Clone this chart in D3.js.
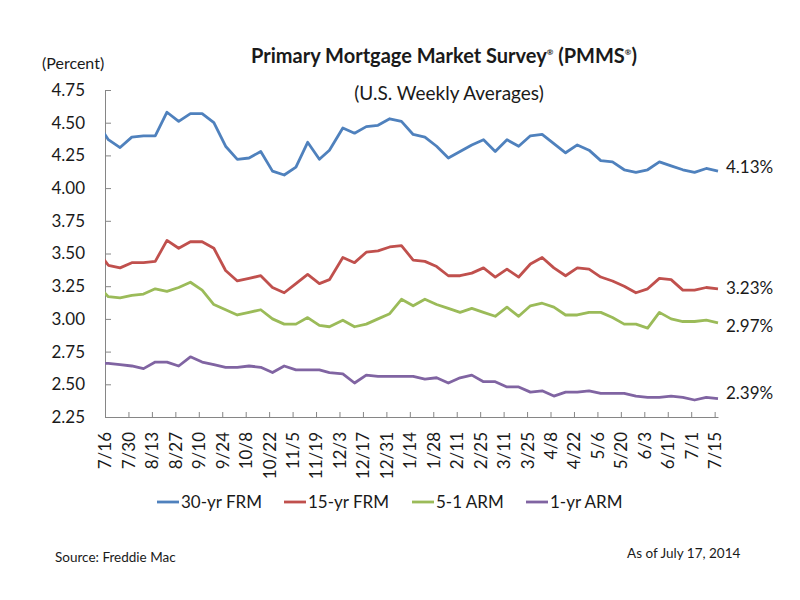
<!DOCTYPE html>
<html>
<head>
<meta charset="utf-8">
<script src="https://cdn.jsdelivr.net/npm/d3@7"></script>
<style>
  body { margin: 0; background: #fff; }
  text { font-family: Lato, "Open Sans", sans-serif; fill: #1a1a1a; }
</style>
</head>
<body>
<div id="chart"></div>
<script>
// Weekly survey dates (first one sits just left of the axis and gets clipped)
const weeks = [
  "2013-07-11","2013-07-18","2013-07-25","2013-08-01","2013-08-08","2013-08-15","2013-08-22","2013-08-29",
  "2013-09-05","2013-09-12","2013-09-19","2013-09-26","2013-10-03","2013-10-10","2013-10-17","2013-10-24",
  "2013-10-31","2013-11-07","2013-11-14","2013-11-21","2013-11-27","2013-12-05","2013-12-12","2013-12-19",
  "2013-12-26","2014-01-02","2014-01-09","2014-01-16","2014-01-23","2014-01-30","2014-02-06","2014-02-13",
  "2014-02-20","2014-02-27","2014-03-06","2014-03-13","2014-03-20","2014-03-27","2014-04-03","2014-04-10",
  "2014-04-17","2014-04-24","2014-05-01","2014-05-08","2014-05-15","2014-05-22","2014-05-29","2014-06-05",
  "2014-06-12","2014-06-19","2014-06-26","2014-07-03","2014-07-10","2014-07-17"
];
const frm30 = [4.51,4.37,4.31, 4.39,4.40,4.40,4.58,4.51, 4.57,4.57,4.50,4.32, 4.22,4.23,4.28,4.13,4.10,
  4.16,4.35,4.22,4.29, 4.46,4.42,4.47,4.48, 4.53,4.51,4.41,4.39,4.32, 4.23,4.28,4.33,4.37,
  4.28,4.37,4.32,4.40, 4.41,4.34,4.27,4.33, 4.29,4.21,4.20,4.14,4.12, 4.14,4.20,4.17,4.14, 4.12,4.15,4.13];
const frm15 = [3.53,3.41,3.39, 3.43,3.43,3.44,3.60,3.54, 3.59,3.59,3.54,3.37, 3.29,3.31,3.33,3.24,3.20,
  3.27,3.34,3.27,3.30, 3.47,3.43,3.51,3.52, 3.55,3.56,3.45,3.44,3.40, 3.33,3.33,3.35,3.39,
  3.32,3.38,3.32,3.42, 3.47,3.39,3.33,3.39, 3.38,3.32,3.29,3.25,3.20, 3.23,3.31,3.30,3.22, 3.22,3.24,3.23];
const arm51 = [3.26,3.17,3.16, 3.18,3.19,3.23,3.21,3.24, 3.28,3.22,3.11,3.07, 3.03,3.05,3.07,3.00,2.96,
  2.96,3.01,2.95,2.94, 2.99,2.94,2.96,3.00, 3.04,3.15,3.10,3.15,3.11, 3.08,3.05,3.08,3.05,
  3.02,3.09,3.02,3.10, 3.12,3.09,3.03,3.03, 3.05,3.05,3.01,2.96,2.96, 2.93,3.05,3.00,2.98, 2.98,2.99,2.97];
const arm1 = [2.66,2.66,2.65, 2.64,2.62,2.67,2.67,2.64, 2.71,2.67,2.65,2.63, 2.63,2.64,2.63,2.59,2.64,
  2.61,2.61,2.61,2.59, 2.58,2.51,2.57,2.56, 2.56,2.56,2.56,2.54,2.55, 2.51,2.55,2.57,2.52,
  2.52,2.48,2.48,2.44, 2.45,2.41,2.44,2.44, 2.45,2.43,2.43,2.43,2.41, 2.40,2.40,2.41,2.40, 2.38,2.40,2.39];
const seriesNames = ["30-yr FRM", "15-yr FRM", "5-1 ARM", "1-yr ARM"];
const yTicks = [2.25, 2.50, 2.75, 3.00, 3.25, 3.50, 3.75, 4.00, 4.25, 4.50, 4.75];
const xStart = "2013-07-16", xEnd = "2014-07-17";

const width = 800, height = 600;
const margin = { left: 105, right: 82, top: 90, bottom: 183 };
const colors = ["#4F81BD", "#C0504D", "#9BBB59", "#8064A2"];
const labelNudge = [-4, -1, 3, -6];  // keep end labels off each other
const axisColor = "#868686";

const parse = d3.utcParse("%Y-%m-%d");
const dates = weeks.map(parse);
const series = [frm30, frm15, arm51, arm1].map((vals, i) => ({
  name: seriesNames[i],
  color: colors[i],
  points: vals.map((v, j) => ({ date: dates[j], value: v }))
}));

const svg = d3.select("#chart").append("svg")
  .attr("width", width)
  .attr("height", height);

const x = d3.scaleUtc()
  .domain([parse(xStart), parse(xEnd)])
  .range([margin.left, width - margin.right]);

const y = d3.scaleLinear()
  .domain([2.25, 4.75])
  .range([height - margin.bottom, margin.top]);

// Title
const title = svg.append("text")
  .attr("x", 444).attr("y", 63)
  .attr("text-anchor", "middle")
  .style("font-size", "20px")
  .style("font-weight", "bold");
title.append("tspan").text("Primary Mortgage Market Survey");
title.append("tspan").attr("dy", -8).style("font-size", "8px").text("®");
title.append("tspan").attr("dy", 8).text(" (PMMS");
title.append("tspan").attr("dy", -8).style("font-size", "8px").text("®");
title.append("tspan").attr("dy", 8).text(")");

svg.append("text")
  .attr("x", 449).attr("y", 100)
  .attr("text-anchor", "middle")
  .style("font-size", "19px")
  .text("(U.S. Weekly Averages)");

svg.append("text")
  .attr("x", 42).attr("y", 69)
  .style("font-size", "16px")
  .text("(Percent)");

// Y axis
const yAxis = svg.append("g")
  .attr("transform", `translate(${margin.left},0)`)
  .call(d3.axisLeft(y).tickValues(yTicks).tickFormat(d3.format(".2f"))
    .tickSizeInner(-6).tickSizeOuter(0).tickPadding(20));
yAxis.select(".domain").attr("stroke", axisColor);
yAxis.selectAll(".tick line").attr("stroke", axisColor);
yAxis.selectAll(".tick text")
  .style("font-size", "17px")
  .attr("fill", "#1a1a1a")
  .style("font-family", "Lato, 'Open Sans', sans-serif");

// X axis: a tick every two weeks counted from 7/16
const xTicks = d3.utcDay.range(parse(xStart), parse(xEnd), 14);
const xAxis = svg.append("g")
  .attr("transform", `translate(0,${height - margin.bottom})`)
  .call(d3.axisBottom(x).tickValues(xTicks).tickFormat(d3.utcFormat("%-m/%-d"))
    .tickSizeInner(-5).tickSizeOuter(0));
xAxis.select(".domain").attr("stroke", axisColor);
xAxis.selectAll(".tick line").attr("stroke", axisColor);
xAxis.selectAll(".tick text")
  .attr("transform", "rotate(-90)")
  .attr("x", -15).attr("y", 0).attr("dy", "0.35em")
  .attr("text-anchor", "end")
  .attr("fill", "#1a1a1a")
  .style("font-size", "17px")
  .style("font-family", "Lato, 'Open Sans', sans-serif");

// Lines
svg.append("clipPath").attr("id", "plot-clip")
  .append("rect")
  .attr("x", margin.left).attr("y", 0)
  .attr("width", width - margin.left - margin.right + 2)
  .attr("height", height);

const line = d3.line()
  .x(d => x(d.date))
  .y(d => y(d.value));

svg.append("g").attr("clip-path", "url(#plot-clip)")
  .selectAll("path")
  .data(series)
  .join("path")
  .attr("d", d => line(d.points))
  .attr("fill", "none")
  .attr("stroke", d => d.color)
  .attr("stroke-width", 2.8)
  .attr("stroke-linejoin", "round");

// End-of-line value labels
svg.selectAll(".end-label")
  .data(series)
  .join("text")
  .attr("class", "end-label")
  .attr("x", d => x(d.points[d.points.length - 1].date) + 8)
  .attr("y", (d, i) => y(d.points[d.points.length - 1].value) + labelNudge[i])
  .attr("dy", "0.35em")
  .style("font-size", "17px")
  .text(d => d3.format(".2f")(d.points[d.points.length - 1].value) + "%");

// Legend
const legendX = [157, 284, 412, 526];
const legend = svg.append("g").attr("transform", "translate(0,502)");
const item = legend.selectAll("g")
  .data(series)
  .join("g")
  .attr("transform", (d, i) => `translate(${legendX[i]},0)`);
item.append("line")
  .attr("x1", 0).attr("x2", 22)
  .attr("stroke", d => d.color)
  .attr("stroke-width", 2.8);
item.append("text")
  .attr("x", 24).attr("dy", "0.35em")
  .style("font-size", "17px")
  .text(d => d.name);

// Footer
svg.append("text")
  .attr("x", 55).attr("y", 562)
  .style("font-size", "13.5px")
  .text("Source: Freddie Mac");
svg.append("text")
  .attr("x", 627).attr("y", 558)
  .style("font-size", "13.5px")
  .text("As of July 17, 2014");
</script>
</body>
</html>
